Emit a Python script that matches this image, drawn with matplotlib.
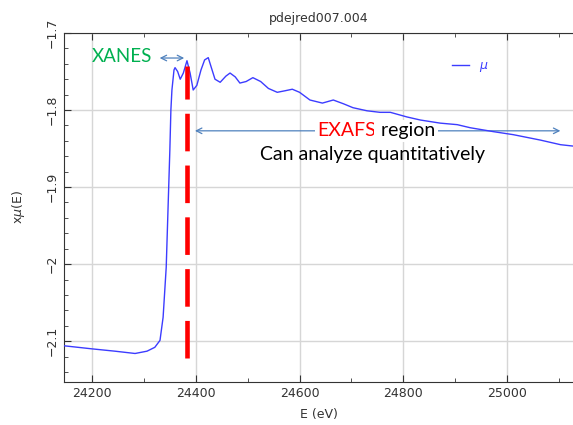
import numpy as np
import matplotlib.pyplot as plt

# x-ray absorption scan, energy in eV
energy = [24146, 24200, 24244, 24283, 24306, 24321, 24331, 24337, 24343, 24347,
          24350, 24352, 24354, 24358, 24360, 24365, 24370, 24376, 24383, 24389,
          24395, 24402, 24410, 24417, 24424, 24430, 24437, 24447, 24458, 24466,
          24476, 24485, 24497, 24510, 24525, 24540, 24557, 24572, 24586, 24600,
          24620, 24644, 24665, 24685, 24703, 24730, 24755, 24775, 24807, 24833,
          24871, 24904, 24929, 24973, 25012, 25064, 25103, 25130]
mu = [-2.106, -2.110, -2.113, -2.116, -2.113, -2.108, -2.099, -2.069, -2.004, -1.917,
      -1.852, -1.800, -1.774, -1.748, -1.745, -1.750, -1.760, -1.752, -1.736, -1.752,
      -1.774, -1.768, -1.748, -1.735, -1.732, -1.745, -1.760, -1.764, -1.756, -1.752,
      -1.757, -1.765, -1.763, -1.758, -1.763, -1.772, -1.777, -1.775, -1.773, -1.777,
      -1.787, -1.791, -1.787, -1.792, -1.797, -1.801, -1.803, -1.803, -1.809, -1.813,
      -1.817, -1.819, -1.823, -1.828, -1.832, -1.839, -1.845, -1.847]

xticks = [24200, 24400, 24600, 24800, 25000]
yticks = [-2.1, -2.0, -1.9, -1.8, -1.7]
ytick_labels = ['\u22122.1', '\u22122', '\u22121.9', '\u22121.8', '\u22121.7']

edge_cut = 24383          # xanes / exafs boundary
xanes_range = (24325, 24383)
exafs_range = (24393, 25108)

ann_font = 'Lato'
arrow_col = '#4f81bd'

fig = plt.figure(figsize=(5.73, 4.25), dpi=100)
ax = fig.add_axes([0.1117, 0.1012, 0.8883, 0.8212])

ax.plot(energy, mu, color='#3c3cff', lw=1.0, label=r'$\mu$', zorder=7)

ax.set_xlim(24146, 25127)
ax.set_ylim(-2.153, -1.7)
ax.set_xticks(xticks)
ax.set_xticks(np.arange(24200, 25127, 100), minor=True)
ax.set_yticks(yticks)
ax.set_yticklabels(ytick_labels, rotation=90, va='center')
ax.set_yticks(np.arange(-2.14, -1.699, 0.02), minor=True)
ax.grid(True, which='major', color='#d6d6d6', lw=1.0)
ax.set_axisbelow(True)
ax.tick_params(which='both', direction='in', top=True, right=False,
               colors='#333333', labelsize=9)
ax.tick_params(which='major', length=5)
ax.tick_params(which='minor', length=3)
for s in ['left', 'bottom', 'top']:
    ax.spines[s].set_color('#333333')
ax.spines['right'].set_visible(False)

ax.set_title('pdejred007.004', fontsize=9, color='#333333', pad=8)
ax.set_xlabel('E (eV)', fontsize=9, color='#333333', labelpad=6)
ax.set_ylabel(r'x$\mu$(E)', fontsize=9, color='#333333', labelpad=14)

leg = ax.legend(loc='upper left', bbox_to_anchor=(0.741, 0.958), frameon=False,
                handlelength=1.3, fontsize=9, labelcolor='#3c3cff')

# boundary between edge region and oscillations
ax.plot([edge_cut, edge_cut], [-2.122, -1.743], color='red', lw=3.3,
        dashes=(8.2, 3.1), zorder=8)

# XANES label and arrow
ax.annotate('', xy=(xanes_range[0], -1.7325), xytext=(xanes_range[1], -1.7325),
            arrowprops=dict(arrowstyle='<->', color=arrow_col, lw=0.9))
ax.text(24316, -1.731, 'XANES', color='#00b050', fontsize=13.5,
        family=ann_font, ha='right', va='center')

# EXAFS label and arrow
ax.annotate('', xy=(exafs_range[0], -1.827), xytext=(exafs_range[1], -1.827),
            arrowprops=dict(arrowstyle='<->', color=arrow_col, lw=0.9))
t1 = ax.text(24635, -1.827, 'EXAFS', color='red', fontsize=14, family=ann_font,
             ha='left', va='center', zorder=6,
             bbox=dict(fc='white', ec='none', pad=2))
ax.annotate(' region', xy=(1, 0.5), xycoords=t1, color='black', fontsize=14,
            family=ann_font, ha='left', va='center', zorder=6,
            bbox=dict(fc='white', ec='none', pad=2))
ax.text(24740, -1.858, 'Can analyze quantitatively', color='black', fontsize=14,
        family=ann_font, ha='center', va='center')

fig.savefig('out.png', dpi=100)
